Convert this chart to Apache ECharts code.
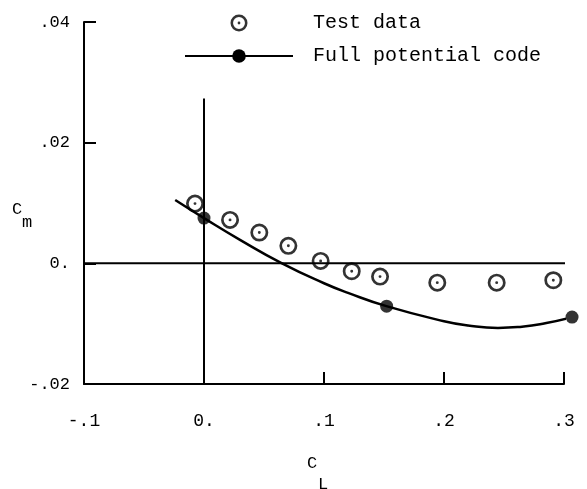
<!DOCTYPE html>
<html>
<head>
<meta charset="utf-8">
<script src="https://cdn.jsdelivr.net/npm/echarts@6/dist/echarts.min.js"></script>
<style>
html,body{margin:0;padding:0;background:#fff;}
#chart{width:587px;height:489px;}
</style>
</head>
<body>
<div id="chart"></div>
<script>
// ---- data ----
var testCL = [-0.0075, 0.0217, 0.0461, 0.0703, 0.0972, 0.1231, 0.1467, 0.1944, 0.2439, 0.2911];
var testCm = [0.0099, 0.0072, 0.0051, 0.0029, 0.0004, -0.0013, -0.0022, -0.0032, -0.0032, -0.0028];

var codeCL = [0.0, 0.1522, 0.3067];
var codeCm = [0.0075, -0.0071, -0.0089];

var curveCL = [-0.024, 0.0, 0.03, 0.065, 0.1, 0.12, 0.152, 0.2, 0.22, 0.245, 0.265, 0.28, 0.307, 0.319];
var curveCm = [0.0105, 0.0075, 0.0039, 0.0, -0.0033, -0.0049, -0.0071, -0.0096, -0.0103, -0.0107, -0.0105, -0.0101, -0.0089, -0.0080];

var zeroHorizX = [-0.1, 0.3055];
var zeroHorizY = [0, 0];
var zeroVertX = [0, 0];
var zeroVertY = [-0.02, 0.0273];

var xTickLabels = ['-.1', '0.', '.1', '.2', '.3'];
var yTickLabels = ['-.02', '0.', '.02', '.04'];

var seriesNames = ['Test data', 'Full potential code'];

function pairs(xs, ys) {
  return xs.map(function (x, i) { return [x, ys[i]]; });
}

var ringPath = 'path://M0,-8 A8,8 0 1,1 0,8 A8,8 0 1,1 0,-8 Z M0,-5.6 A5.6,5.6 0 1,0 0,5.6 A5.6,5.6 0 1,0 0,-5.6 Z M0,-1.3 A1.3,1.3 0 1,1 0,1.3 A1.3,1.3 0 1,1 0,-1.3 Z';

var mono = 'Liberation Mono';

var chart = echarts.init(document.getElementById('chart'), null, {renderer: 'canvas'});
chart.setOption({
  backgroundColor: '#ffffff',
  animation: false,
  grid: {left: 84, right: 23, top: 22, bottom: 105, containLabel: false},
  legend: {
    data: [
      {name: seriesNames[0], icon: ringPath},
      {name: seriesNames[1]}
    ],
    orient: 'vertical',
    left: 179,
    top: 8,
    itemWidth: 108,
    itemHeight: 17,
    itemGap: 13,
    selectedMode: false,
    textStyle: {fontFamily: mono, fontSize: 20, color: '#000', padding: [0, 0, 0, 15]}
  },
  xAxis: {
    type: 'value',
    min: -0.1, max: 0.3, interval: 0.1,
    axisLine: {show: true, onZero: false, lineStyle: {color: '#000', width: 2}},
    axisTick: {show: true, inside: true, length: 12, lineStyle: {color: '#000', width: 2}},
    splitLine: {show: false},
    axisLabel: {
      margin: 28, color: '#000', fontFamily: mono, fontSize: 18,
      formatter: function (v, i) { return xTickLabels[i]; }
    }
  },
  yAxis: {
    type: 'value',
    min: -0.02, max: 0.04, interval: 0.02,
    axisLine: {show: true, onZero: false, lineStyle: {color: '#000', width: 2}},
    axisTick: {show: true, inside: true, length: 12, lineStyle: {color: '#000', width: 2}},
    splitLine: {show: false},
    axisLabel: {
      margin: 14, color: '#000', fontFamily: mono, fontSize: 17,
      formatter: function (v, i) { return yTickLabels[i]; }
    }
  },
  graphic: [
    {type: 'text', left: 12, top: 201, style: {text: 'C', font: '17px "Liberation Mono"', fill: '#000'}},
    {type: 'text', left: 22, top: 214, style: {text: 'm', font: '17px "Liberation Mono"', fill: '#000'}},
    {type: 'text', left: 307, top: 455, style: {text: 'C', font: '17px "Liberation Mono"', fill: '#000'}},
    {type: 'text', left: 318, top: 476, style: {text: 'L', font: '17px "Liberation Mono"', fill: '#000'}}
  ],
  series: [
    {
      name: 'zeroH', type: 'line', data: pairs(zeroHorizX, zeroHorizY),
      symbol: 'none', clip: false, silent: true,
      lineStyle: {color: '#000', width: 2}, z: 1
    },
    {
      name: 'zeroV', type: 'line', data: pairs(zeroVertX, zeroVertY),
      symbol: 'none', clip: false, silent: true,
      lineStyle: {color: '#000', width: 2}, z: 1
    },
    {
      name: seriesNames[1], type: 'line', data: pairs(curveCL, curveCm),
      symbol: 'none', smooth: 0.5, clip: false,
      lineStyle: {color: '#000', width: 2.5},
      itemStyle: {color: '#000'}, z: 2
    },
    {
      name: 'codePoints', type: 'scatter', data: pairs(codeCL, codeCm),
      symbol: 'circle', symbolSize: 13, clip: false,
      itemStyle: {color: '#000'}, z: 3
    },
    {
      name: seriesNames[0], type: 'scatter', data: pairs(testCL, testCm),
      symbol: ringPath, symbolSize: 18, symbolKeepAspect: true, clip: false,
      itemStyle: {color: '#000'}, z: 4
    }
  ]
});
</script>
</body>
</html>
